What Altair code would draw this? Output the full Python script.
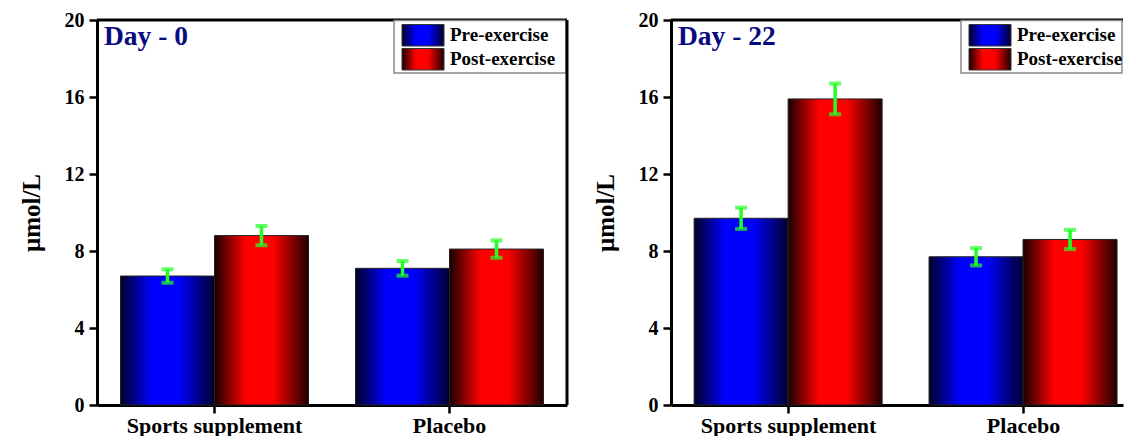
import altair as alt
import pandas as pd

groups = ["Sports supplement", "Placebo"]
series = ["Pre-exercise", "Post-exercise"]

day0_pre = [6.7, 7.1]
day0_post = [8.8, 8.1]
day0_pre_err = [0.35, 0.38]
day0_post_err = [0.5, 0.45]

day22_pre = [9.7, 7.7]
day22_post = [15.9, 8.6]
day22_pre_err = [0.55, 0.45]
day22_post_err = [0.8, 0.5]

y_ticks = [0, 4, 8, 12, 16, 20]

FONT = "Liberation Serif"
H = 385


def grad(dark_l, bright, dark_r):
    return alt.Gradient(
        gradient="linear",
        stops=[
            alt.GradientStop(offset=0, color=dark_l),
            alt.GradientStop(offset=0.33, color=bright),
            alt.GradientStop(offset=0.62, color=bright),
            alt.GradientStop(offset=1, color=dark_r),
        ],
        x1=0, x2=1, y1=0, y2=0,
    )


blue_grad = grad("#000028", "#0000ff", "#000030")
red_grad = grad("#1a0000", "#ff0000", "#200000")


def panel(pre, post, pre_err, post_err, day_label, width, right_border, leg_x, xscale):
    df = pd.DataFrame({
        "group": groups * 2,
        "series": [series[0]] * 2 + [series[1]] * 2,
        "value": pre + post,
        "err": pre_err + post_err,
    })
    df["lo"] = df["value"] - df["err"]
    df["hi"] = df["value"] + df["err"]

    base = alt.Chart(df).encode(
        x=alt.X("group:N", sort=groups, scale=xscale,
                axis=alt.Axis(title=None, labelAngle=0, labelFontSize=22, labelPadding=2)),
        xOffset=alt.XOffset("series:N", scale=alt.Scale(domain=series)),
    )
    yenc = alt.Y("value:Q", scale=alt.Scale(domain=[0, 20], nice=False),
                 axis=alt.Axis(values=y_ticks, title="μmol/L", titleFontSize=25,
                               labelFontSize=20, labelPadding=5, titlePadding=20))

    pre_bars = base.transform_filter(alt.datum.series == series[0]).mark_bar(
        color=blue_grad, stroke="#222222", strokeWidth=1).encode(y=yenc)
    post_bars = base.transform_filter(alt.datum.series == series[1]).mark_bar(
        color=red_grad, stroke="#222222", strokeWidth=1).encode(y=yenc)

    green = "#22ff22"
    err_rule = base.mark_rule(color=green, strokeWidth=3.5).encode(y="lo:Q", y2="hi:Q")
    cap_hi = base.mark_tick(color=green, thickness=4, size=12, orient="horizontal").encode(y="hi:Q")
    cap_lo = base.mark_tick(color=green, thickness=4, size=12, orient="horizontal").encode(y="lo:Q")

    one = alt.Chart(pd.DataFrame({"label": [day_label]}))
    title = one.mark_text(align="left", baseline="middle", font=FONT, fontWeight="bold",
                          fontSize=27.5, color="#0a0a80").encode(
        x=alt.value(7), y=alt.value(17), text="label:N")

    top_rule = one.mark_rule(color="black", strokeWidth=3).encode(
        x=alt.value(0), x2=alt.value(width), y=alt.value(0))

    leg_df = pd.DataFrame({"series": series})
    leg = alt.Chart(leg_df)
    box = one.mark_rect(fill="white", stroke="#8a8a8a", strokeWidth=1.5).encode(
        x=alt.value(leg_x), x2=alt.value(width - 1), y=alt.value(0.5), y2=alt.value(53))
    sw_pre = leg.transform_filter(alt.datum.series == series[0]).mark_rect(
        color=blue_grad, stroke="#333333", strokeWidth=1).encode(
        x=alt.value(leg_x + 8), x2=alt.value(leg_x + 50), y=alt.value(4.5), y2=alt.value(26))
    sw_post = leg.transform_filter(alt.datum.series == series[1]).mark_rect(
        color=red_grad, stroke="#333333", strokeWidth=1).encode(
        x=alt.value(leg_x + 8), x2=alt.value(leg_x + 50), y=alt.value(28.5), y2=alt.value(50))
    txt_pre = leg.transform_filter(alt.datum.series == series[0]).mark_text(
        align="left", baseline="middle", font=FONT, fontWeight="bold", fontSize=19,
        color="black").encode(x=alt.value(leg_x + 56), y=alt.value(15), text="series:N")
    txt_post = leg.transform_filter(alt.datum.series == series[1]).mark_text(
        align="left", baseline="middle", font=FONT, fontWeight="bold", fontSize=19,
        color="black").encode(x=alt.value(leg_x + 56), y=alt.value(39), text="series:N")

    layers = [pre_bars, post_bars, err_rule, cap_hi, cap_lo, title, top_rule,
              box, sw_pre, sw_post, txt_pre, txt_post]
    if right_border:
        layers.append(one.mark_rule(color="black", strokeWidth=3).encode(
            x=alt.value(width), y=alt.value(0), y2=alt.value(H)))
    return alt.layer(*layers).properties(width=width, height=H)


left_scale = alt.Scale(domain=groups, paddingInner=0.2, paddingOuter=0.1)
right_scale = alt.Scale(domain=groups, paddingInner=0.196, paddingOuter=0.06, align=0.82)

left = panel(day0_pre, day0_post, day0_pre_err, day0_post_err, "Day - 0", 470, True, 297, left_scale)
right = panel(day22_pre, day22_post, day22_pre_err, day22_post_err, "Day - 22", 452, False, 290, right_scale)

chart = alt.hconcat(left, right, spacing=24).properties(
    padding={"left": 11, "top": 2, "right": 0, "bottom": 0}
).configure_view(stroke=None).configure_axis(
    labelFont=FONT, labelFontWeight="bold", labelColor="black",
    titleFont=FONT, titleFontWeight="bold", titleColor="black",
    domainColor="black", domainWidth=3, tickColor="black", tickWidth=2.5,
    tickSize=8, grid=False,
)

chart.save("out.html", embed_options={"renderer": "svg", "actions": False})
